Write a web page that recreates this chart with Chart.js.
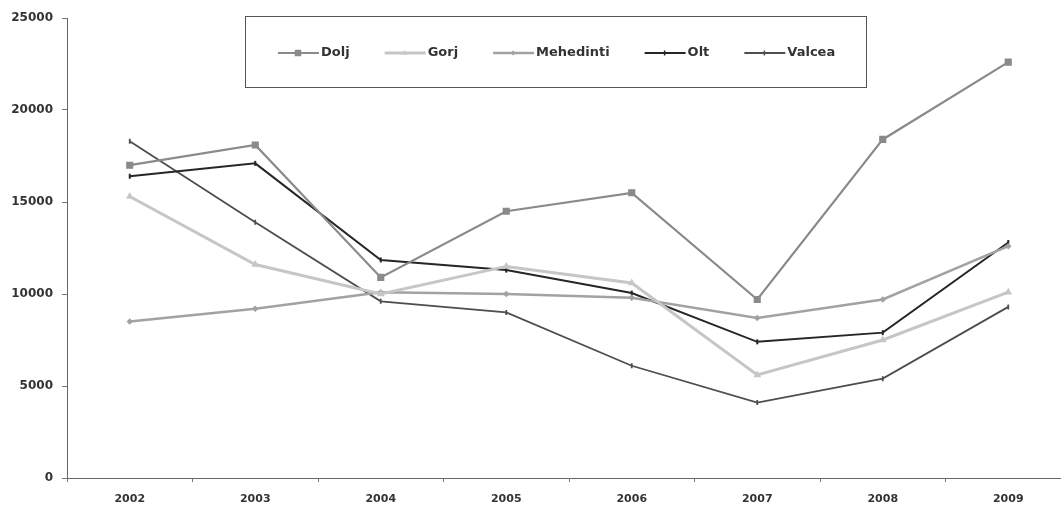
<!DOCTYPE html>
<html>
<head>
<meta charset="utf-8">
<script src="https://cdn.jsdelivr.net/npm/chart.js@4/dist/chart.umd.min.js"></script>
<style>
  html, body { margin: 0; padding: 0; background: #fff; overflow: hidden; }
  #wrap { width: 1078px; height: 508px; }
</style>
</head>
<body>
<div id="wrap"><canvas id="line-chart" width="1078" height="508"></canvas></div>
<script>
// years on the x axis
var years = ['2002', '2003', '2004', '2005', '2006', '2007', '2008', '2009'];

// values per county
var dolj      = [17000, 18100, 10900, 14500, 15500, 9700, 18400, 22600];
var gorj      = [15300, 11600, 10000, 11500, 10600, 5600, 7500, 10100];
var mehedinti = [8500, 9200, 10100, 10000, 9800, 8700, 9700, 12600];
var olt       = [16400, 17100, 11850, 11300, 10050, 7400, 7900, 12800];
var valcea    = [18300, 13900, 9600, 9000, 6100, 4100, 5400, 9300];

var yTicks = [0, 5000, 10000, 15000, 20000, 25000];

// boxed legend drawn inside the plot, like the excel one
var boxLegend = {
    id: 'boxLegend',
    afterDraw: function (chart) {
        var ctx = chart.ctx;
        ctx.save();
        ctx.strokeStyle = '#555';
        ctx.lineWidth = 1;
        ctx.strokeRect(245.5, 16.5, 621, 71);

        ctx.font = 'bold 13px "DejaVu Sans"';
        ctx.textBaseline = 'middle';
        var x = 278, y = 53;
        chart.data.datasets.forEach(function (ds) {
            ctx.strokeStyle = ds.borderColor;
            ctx.lineWidth = ds.borderWidth;
            ctx.beginPath();
            ctx.moveTo(x, y);
            ctx.lineTo(x + 41, y);
            ctx.stroke();
            if (ds.pointRadius > 0) {
                ctx.fillStyle = ds.pointBackgroundColor;
                ctx.strokeStyle = ds.borderColor;
                ctx.lineWidth = 1.5;
                Chart.helpers.drawPoint(ctx, {
                    pointStyle: ds.pointStyle,
                    radius: ds.pointRadius,
                    rotation: ds.pointRotation || 0,
                    borderWidth: 1.5
                }, x + 20, y);
            }
            ctx.fillStyle = '#333';
            ctx.fillText(ds.label, x + 43, y);
            x += 43 + ctx.measureText(ds.label).width + 35;
        });
        ctx.restore();
    }
};

function createLineChart() {
    var ctx = document.getElementById('line-chart');
    new Chart(ctx, {
        type: 'line',
        data: {
            labels: years,
            datasets: [{
                label: 'Dolj',
                data: dolj,
                borderColor: '#8a8a8a',
                backgroundColor: '#8a8a8a',
                pointBackgroundColor: '#8a8a8a',
                borderWidth: 2.2,
                pointStyle: 'rect',
                pointRadius: 3.5
            }, {
                label: 'Gorj',
                data: gorj,
                borderColor: '#c6c6c6',
                backgroundColor: '#c6c6c6',
                pointBackgroundColor: '#c6c6c6',
                borderWidth: 3,
                pointStyle: 'triangle',
                pointRadius: 1.5
            }, {
                label: 'Mehedinti',
                data: mehedinti,
                borderColor: '#a2a2a2',
                backgroundColor: '#a2a2a2',
                pointBackgroundColor: '#a2a2a2',
                borderWidth: 2.5,
                pointStyle: 'rectRot',
                pointRadius: 1.5
            }, {
                label: 'Olt',
                data: olt,
                borderColor: '#262626',
                backgroundColor: '#262626',
                pointBackgroundColor: '#262626',
                borderWidth: 2,
                pointStyle: 'line',
                pointRotation: 90,
                pointRadius: 2.5
            }, {
                label: 'Valcea',
                data: valcea,
                borderColor: '#4e4e4e',
                backgroundColor: '#4e4e4e',
                pointBackgroundColor: '#4e4e4e',
                borderWidth: 1.8,
                pointStyle: 'line',
                pointRotation: 90,
                pointRadius: 2.5
            }]
        },
        options: {
            responsive: false,
            animation: false,
            devicePixelRatio: 1,
            layout: { padding: { top: 18, left: 0, right: 0, bottom: 0 } },
            plugins: {
                legend: { display: false },
                tooltip: { enabled: false }
            },
            elements: { line: { tension: 0 } },
            scales: {
                x: {
                    offset: true,
                    grid: {
                        offset: true,
                        drawOnChartArea: false,
                        tickLength: 4,
                        color: '#777'
                    },
                    border: { color: '#666', width: 1 },
                    ticks: {
                        color: '#333',
                        font: { family: 'DejaVu Sans', weight: 'bold', size: 11 },
                        padding: 11,
                        maxRotation: 0
                    },
                    afterFit: function (scale) { scale.height = 30; }
                },
                y: {
                    min: 0,
                    max: 25000,
                    afterBuildTicks: function (scale) {
                        scale.ticks = yTicks.map(function (v) { return { value: v }; });
                    },
                    grid: {
                        drawOnChartArea: false,
                        tickLength: 5,
                        color: '#777'
                    },
                    border: { color: '#666', width: 1 },
                    ticks: {
                        color: '#333',
                        font: { family: 'DejaVu Sans', weight: 'bold', size: 12 },
                        padding: 9,
                        callback: function (v) { return String(v); }
                    },
                    afterFit: function (scale) { scale.width = 67; }
                }
            }
        },
        plugins: [boxLegend]
    });
}

createLineChart();
</script>
</body>
</html>
